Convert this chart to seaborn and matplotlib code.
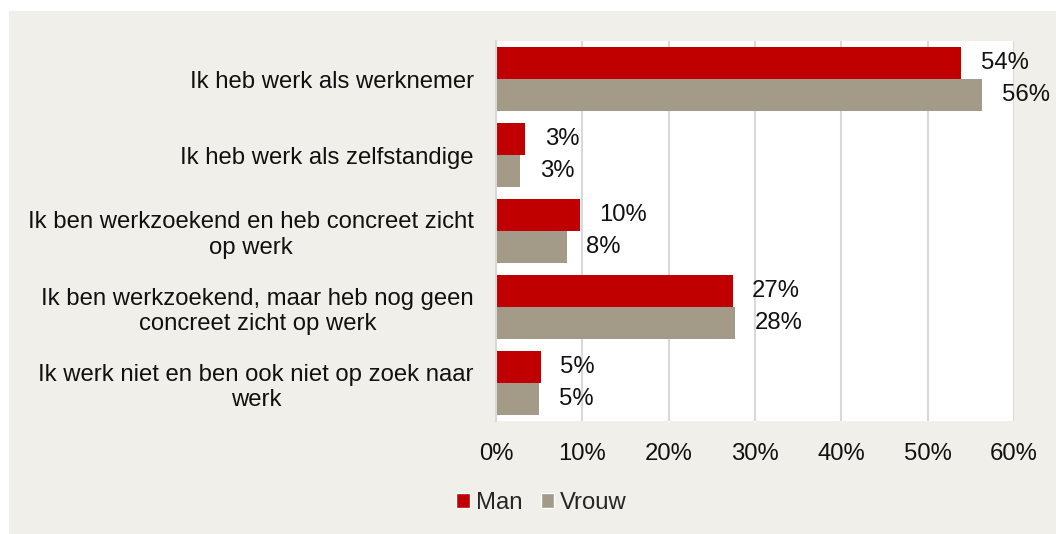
import textwrap

import pandas as pd
import matplotlib.pyplot as plt
import seaborn as sns
from matplotlib.patches import Rectangle

# ----------------------------- DATA -----------------------------
categories = [
    "Ik heb werk als werknemer",
    "Ik heb werk als zelfstandige",
    "Ik ben werkzoekend en heb concreet zicht op werk",
    "Ik ben werkzoekend, maar heb nog geen concreet zicht op werk",
    "Ik werk niet en ben ook niet op zoek naar werk",
]
man = [53.9, 3.4, 9.7, 27.4, 5.2]
vrouw = [56.3, 2.8, 8.2, 27.7, 5.0]
groups = ["Man", "Vrouw"]
colors = ["#c00000", "#a39a87"]
xticks = [0, 10, 20, 30, 40, 50, 60]

df = pd.DataFrame({
    "categorie": categories * 2,
    "groep": ["Man"] * len(categories) + ["Vrouw"] * len(categories),
    "waarde": man + vrouw,
})

# ----------------------------- STYLE -----------------------------
FS = 17.2
sns.set_theme(style="white")
plt.rcParams["font.family"] = ["Liberation Sans", "DejaVu Sans"]
plt.rcParams["font.size"] = FS

fig = plt.figure(figsize=(10.56, 5.34), dpi=100, facecolor="white")
fig.patches.append(Rectangle((9 / 1056, 0), 1, 1 - 11 / 534, transform=fig.transFigure,
                             facecolor="#f0efe9", edgecolor="none", zorder=-10))
ax = fig.add_axes([496 / 1056, 1 - 421 / 534, (1014 - 496) / 1056, (421 - 41) / 534])
ax.set_facecolor("white")

# ----------------------------- PLOT -----------------------------
sns.barplot(data=df, y="categorie", x="waarde", hue="groep", orient="h",
            palette=colors, hue_order=groups, width=0.84, saturation=1,
            linewidth=0, ax=ax, legend=False)

for cont in ax.containers:
    ax.bar_label(cont, labels=[f"{v:.0f}%" for v in cont.datavalues],
                 padding=14, fontsize=FS, color="#111111")

ax.set_xlim(0, 60)
ax.set_xticks(xticks)
ax.set_xticklabels([f"{t}%" for t in xticks])
ax.set_yticks(range(len(categories)))
ax.set_yticklabels([textwrap.fill(c, 41) for c in categories])
for t in ax.get_yticklabels():
    t.set_multialignment("center")
ax.tick_params(axis="y", length=0, pad=16, labelsize=FS, labelcolor="#111111")
ax.tick_params(axis="x", length=0, pad=16, labelsize=FS, labelcolor="#111111")
ax.set_xlabel("")
ax.set_ylabel("")

ax.grid(axis="x", color="#d9d9d9", linewidth=1.5)
ax.set_axisbelow(True)
for s in ["top", "right", "bottom"]:
    ax.spines[s].set_visible(False)
ax.spines["left"].set_color("#d9d9d9")
ax.spines["left"].set_linewidth(1.5)

handles = [Rectangle((0, 0), 1, 1, facecolor=c) for c in colors]
fig.legend(handles, groups, loc="center", bbox_to_anchor=(0.513, 0.058), ncol=2,
           frameon=False, fontsize=FS, handlelength=0.55, handleheight=0.55,
           handletextpad=0.25, columnspacing=0.8)

plt.savefig("out.png", dpi=100, facecolor=fig.get_facecolor())
